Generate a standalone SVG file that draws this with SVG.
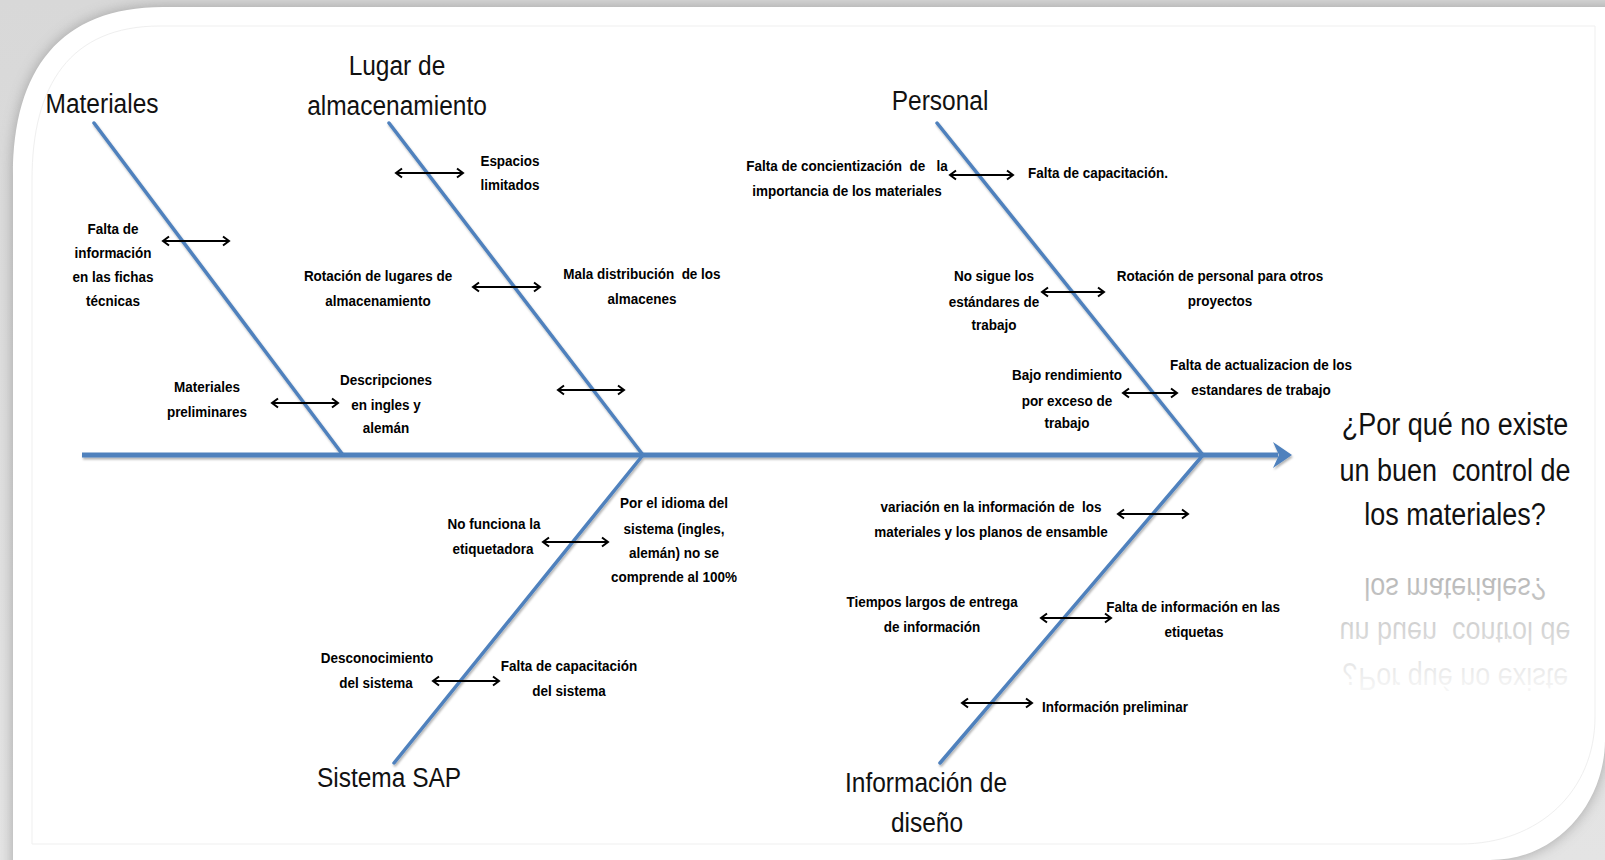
<svg xmlns="http://www.w3.org/2000/svg" width="1605" height="860" viewBox="0 0 1605 860">
<style>
.s{font-family:"Liberation Sans",Arial,sans-serif;font-weight:bold;font-size:15.5px;fill:#000;text-anchor:middle}
.sl{text-anchor:start}
.h{font-family:"Liberation Sans",Arial,sans-serif;font-size:28px;fill:#111;text-anchor:middle}
.q{font-family:"Liberation Sans",Arial,sans-serif;font-size:31px;fill:#111;text-anchor:middle}
.bone{stroke:#4F81BD;stroke-width:3.5;fill:none;stroke-linecap:round}
.spine{stroke:#4F81BD;stroke-width:5;fill:none}
.dbl{stroke:#000;stroke-width:2;fill:none;marker-start:url(#ah);marker-end:url(#ah)}
</style>
<defs>
<marker id="ah" viewBox="-10 -6 12 12" refX="0" refY="0" markerWidth="12" markerHeight="12" markerUnits="userSpaceOnUse" orient="auto-start-reverse">
<path d="M-6,-4.5 L0,0 L-6,4.5" fill="none" stroke="#000" stroke-width="2"/>
</marker>
<filter id="blur" x="-10%" y="-10%" width="120%" height="120%">
<feGaussianBlur stdDeviation="7"/>
</filter>
<filter id="lineShadow" x="-5%" y="-5%" width="110%" height="110%">
<feDropShadow dx="1" dy="2" stdDeviation="1" flood-color="#000" flood-opacity="0.3"/>
</filter>
<linearGradient id="bg" x1="0" y1="0" x2="0" y2="1">
<stop offset="0" stop-color="#d8d8d8"/>
<stop offset="1" stop-color="#e4e4e4"/>
</linearGradient>
<linearGradient id="refl" gradientUnits="userSpaceOnUse" x1="0" y1="535" x2="0" y2="405">
<stop offset="0" stop-color="#000" stop-opacity="0.3"/>
<stop offset="1" stop-color="#000" stop-opacity="0.02"/>
</linearGradient>
</defs>

<g id="frame">
<rect x="0" y="0" width="1605" height="860" fill="url(#bg)"/>
<path d="M13,900 L13,175 C13,70 60,7 163,7 L1650,7 L1650,700 L1605,740 C1605,800 1560,860 1490,860 L1490,900 Z" fill="#8a8a8a" opacity="0.7" filter="url(#blur)"/>
<path d="M13,900 L13,175 C13,70 60,7 163,7 L1650,7 L1650,700 L1605,740 C1605,800 1560,860 1490,860 L1490,900 Z" fill="#fff"/>
<rect x="1500" y="7" width="105" height="735" fill="#fff"/>
<path d="M32,844 L32,180 C32,85 70,26 160,26 L1595,26 L1595,717 C1595,790 1540,844 1460,844 Z" fill="none" stroke="#efefef" stroke-width="1"/>
</g>

<g id="connectors">
<g filter="url(#lineShadow)">
<line class="spine" x1="82" y1="455" x2="1278" y2="455"/>
<polygon points="1292,455 1273,442 1279,455 1273,468" fill="#4F81BD"/>
<line class="bone" x1="94" y1="123" x2="343" y2="455"/>
<line class="bone" x1="389" y1="123" x2="643" y2="455"/>
<line class="bone" x1="937" y1="123" x2="1203" y2="455"/>
<line class="bone" x1="643" y1="455" x2="394" y2="763"/>
<line class="bone" x1="1203" y1="455" x2="940" y2="763"/>
</g>
<line class="dbl" x1="163" y1="241" x2="229" y2="241"/>
<line class="dbl" x1="272" y1="403" x2="338" y2="403"/>
<line class="dbl" x1="396" y1="173" x2="463" y2="173"/>
<line class="dbl" x1="473" y1="287" x2="540" y2="287"/>
<line class="dbl" x1="558" y1="390" x2="624" y2="390"/>
<line class="dbl" x1="950" y1="175" x2="1013" y2="175"/>
<line class="dbl" x1="1042" y1="292" x2="1104" y2="292"/>
<line class="dbl" x1="1123" y1="393" x2="1177" y2="393"/>
<line class="dbl" x1="543" y1="542" x2="608" y2="542"/>
<line class="dbl" x1="433" y1="681" x2="499" y2="681"/>
<line class="dbl" x1="1118" y1="514" x2="1188" y2="514"/>
<line class="dbl" x1="1041" y1="618" x2="1111" y2="618"/>
<line class="dbl" x1="962" y1="703" x2="1032" y2="703"/>
</g>

<g transform="scale(0.875,1)">
<g id="cat-materiales"><text class="h" x="116.6" y="113">Materiales</text></g>
<g id="cat-lugar"><text class="h" x="453.7" y="75">Lugar de</text><text class="h" x="453.7" y="115">almacenamiento</text></g>
<g id="cat-personal"><text class="h" x="1074.3" y="110">Personal</text></g>
<g id="cat-sap"><text class="h" x="444.6" y="787">Sistema SAP</text></g>
<g id="cat-info"><text class="h" x="1058.3" y="792">Información de</text><text class="h" x="1059.4" y="832">diseño</text></g>
</g>

<g id="effect" transform="scale(0.87,1)">
<text class="q" x="1672.4" y="435">¿Por qué no existe</text>
<text class="q" x="1672.4" y="481" xml:space="preserve">un buen  control de</text>
<text class="q" x="1672.4" y="525">los materiales?</text>
</g>
<g id="effect-reflection" transform="translate(0,1103) scale(0.87,-1)">
<text class="q" x="1672.4" y="435" style="fill:url(#refl)">¿Por qué no existe</text>
<text class="q" x="1672.4" y="481" xml:space="preserve" style="fill:url(#refl)">un buen  control de</text>
<text class="q" x="1672.4" y="525" style="fill:url(#refl)">los materiales?</text>
</g>

<g transform="scale(0.87,1)">
<g id="c-falta-info"><text class="s" x="129.9" y="234">Falta de</text><text class="s" x="129.9" y="258">información</text><text class="s" x="129.9" y="282">en las fichas</text><text class="s" x="129.9" y="306">técnicas</text></g>
<g id="c-mat-prelim"><text class="s" x="237.9" y="392">Materiales</text><text class="s" x="237.9" y="417">preliminares</text></g>
<g id="c-descripciones"><text class="s" x="443.7" y="385">Descripciones</text><text class="s" x="443.7" y="410">en ingles y</text><text class="s" x="443.7" y="433">alemán</text></g>

<g id="c-espacios"><text class="s" x="586.2" y="166">Espacios</text><text class="s" x="586.2" y="190">limitados</text></g>
<g id="c-rotacion-lugares"><text class="s" x="434.5" y="281">Rotación de lugares de</text><text class="s" x="434.5" y="306">almacenamiento</text></g>
<g id="c-mala-dist"><text class="s" x="737.9" y="279" xml:space="preserve">Mala distribución  de los</text><text class="s" x="737.9" y="304">almacenes</text></g>

<g id="c-concientizacion"><text class="s" x="973.6" y="171" xml:space="preserve">Falta de concientización  de   la</text><text class="s" x="973.6" y="196">importancia de los materiales</text></g>
<g id="c-capacitacion"><text class="s sl" x="1181.6" y="178">Falta de capacitación.</text></g>
<g id="c-no-sigue"><text class="s" x="1142.5" y="281">No sigue los</text><text class="s" x="1142.5" y="307">estándares de</text><text class="s" x="1142.5" y="330">trabajo</text></g>
<g id="c-rotacion-personal"><text class="s" x="1402.3" y="281">Rotación de personal para otros</text><text class="s" x="1402.3" y="306">proyectos</text></g>
<g id="c-bajo-rend"><text class="s" x="1226.4" y="380">Bajo rendimiento</text><text class="s" x="1226.4" y="406">por exceso de</text><text class="s" x="1226.4" y="428">trabajo</text></g>
<g id="c-actualizacion"><text class="s" x="1449.4" y="370">Falta de actualizacion de los</text><text class="s" x="1449.4" y="395">estandares de trabajo</text></g>

<g id="c-etiquetadora"><text class="s" x="567.8" y="529">No funciona la</text><text class="s" x="566.7" y="554">etiquetadora</text></g>
<g id="c-idioma"><text class="s" x="774.7" y="508">Por el idioma del</text><text class="s" x="774.7" y="534">sistema (ingles,</text><text class="s" x="774.7" y="558">alemán) no se</text><text class="s" x="774.7" y="582">comprende al 100%</text></g>
<g id="c-desconocimiento"><text class="s" x="433.3" y="663">Desconocimiento</text><text class="s" x="432.2" y="688">del sistema</text></g>
<g id="c-capacitacion-sap"><text class="s" x="654" y="671">Falta de capacitación</text><text class="s" x="654" y="696">del sistema</text></g>

<g id="c-variacion"><text class="s" x="1139.1" y="512" xml:space="preserve">variación en la información de  los</text><text class="s" x="1139.1" y="537">materiales y los planos de ensamble</text></g>
<g id="c-tiempos"><text class="s" x="1071.3" y="607">Tiempos largos de entrega</text><text class="s" x="1071.3" y="632">de información</text></g>
<g id="c-etiquetas"><text class="s" x="1371.3" y="612">Falta de información en las</text><text class="s" x="1372.4" y="637">etiquetas</text></g>
<g id="c-info-prelim"><text class="s sl" x="1197.7" y="712">Información preliminar</text></g>
</g>
</svg>
